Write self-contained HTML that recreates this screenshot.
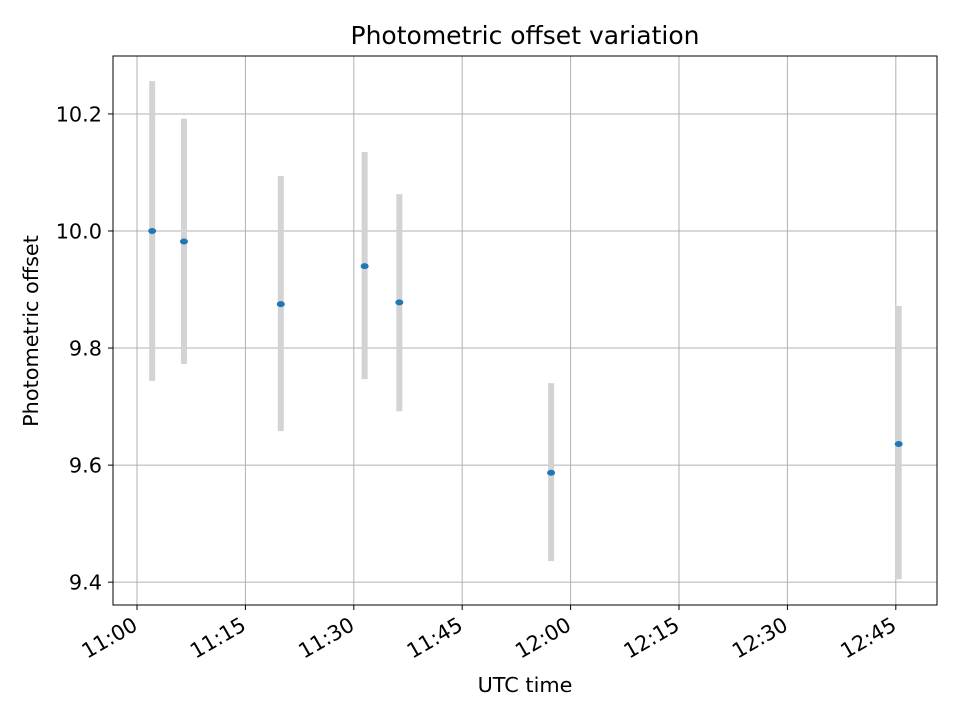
<!DOCTYPE html>
<html><head><meta charset="utf-8"><style>
body{margin:0;background:#fff;font-family:"DejaVu Sans","Liberation Sans",sans-serif;}
svg text{font-family:"DejaVu Sans","Liberation Sans",sans-serif;}
</style></head><body>
<svg id="chart" width="960" height="720" xmlns="http://www.w3.org/2000/svg">
<rect width="960" height="720" fill="#fff"/>
<g id="grid"></g><g id="bars"></g><g id="pts"></g><g id="axes"></g>
<text x="525" y="44" font-size="25" text-anchor="middle">Photometric offset variation</text>
<text x="525" y="692" font-size="20.8" text-anchor="middle">UTC time</text>
<text x="38" y="331" font-size="20.8" text-anchor="middle" transform="rotate(-90 38 331)">Photometric offset</text>
</svg>
<script>
// minutes after 11:00 UTC
const times=[2.1,6.5,19.9,31.5,36.3,57.3,105.4];
const values=[10.0,9.982,9.875,9.94,9.878,9.587,9.636];
const upper=[10.256,10.192,10.094,10.135,10.063,9.740,9.872];
const lower=[9.744,9.773,9.658,9.747,9.692,9.436,9.405];
const xTicks=[0,15,30,45,60,75,90,105];
const xTickLabels=["11:00","11:15","11:30","11:45","12:00","12:15","12:30","12:45"];
const yTicks=[9.4,9.6,9.8,10.0,10.2];
const yTickLabels=["9.4","9.6","9.8","10.0","10.2"];

const L=113,R=937,T=56,B=605;
const xMin=-3.32,xMax=110.7,yMin=9.361,yMax=10.299;
const xs=v=>L+(v-xMin)/(xMax-xMin)*(R-L);
const ys=v=>B-(v-yMin)/(yMax-yMin)*(B-T);
const NS="http://www.w3.org/2000/svg";
function mk(tag,attrs,parent){const e=document.createElementNS(NS,tag);for(const k in attrs)e.setAttribute(k,attrs[k]);document.getElementById(parent).appendChild(e);return e;}

xTicks.forEach((t,i)=>{
 const x=xs(t);
 const g=mk("line",{x1:x,x2:x,y1:T,y2:B,stroke:"#b0b0b0","stroke-width":1},"grid");
 
 
 const tk=mk("line",{x1:x,x2:x,y1:B,y2:B+5,stroke:"#000","stroke-width":1},"axes");
 
 
 const lb=mk("text",{x:x+2,y:B+24,"font-size":20.8,"text-anchor":"end",transform:`rotate(-30 ${x+2} ${B+24})`},"axes");
 lb.textContent=xTickLabels[i];
 
 
});
yTicks.forEach((t,i)=>{
 const y=ys(t);
 const g=mk("line",{x1:L,x2:R,y1:y,y2:y,stroke:"#b0b0b0","stroke-width":1},"grid");
 
 
 const tk=mk("line",{x1:L-5,x2:L,y1:y,y2:y,stroke:"#000","stroke-width":1},"axes");
 
 
 const lb=mk("text",{x:L-11,y:y+7.5,"font-size":20.8,"text-anchor":"end"},"axes");
 lb.textContent=yTickLabels[i];
 
 
});
const fr=mk("rect",{x:L,y:T,width:R-L,height:B-T,fill:"none",stroke:"#000","stroke-width":1},"axes");



times.forEach((t,i)=>{
 const x=xs(t);
 const eb=mk("line",{x1:x,x2:x,y1:ys(upper[i]),y2:ys(lower[i]),stroke:"#d3d3d3","stroke-width":6},"bars");
 
 
 const p=mk("ellipse",{cx:x,cy:ys(values[i]),rx:4,ry:3,fill:"#1f77b4"},"pts");
 
 
});
</script>
</body></html>
